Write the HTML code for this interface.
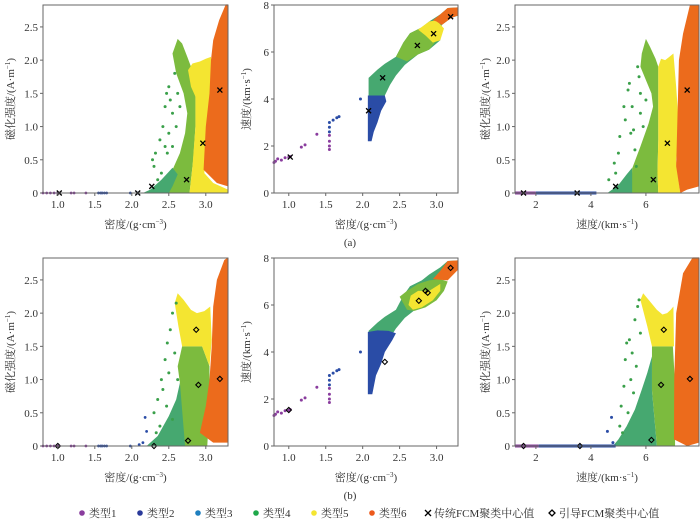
<!DOCTYPE html>
<html><head><meta charset="utf-8"><style>
body{margin:0;background:#fff;width:700px;height:519px;overflow:hidden}
svg text{font-family:"Liberation Serif","Noto Serif CJK SC","Noto Sans CJK SC",serif;fill:#333}
</style></head><body>
<svg id="chart" width="700" height="519" viewBox="0 0 700 519" xmlns="http://www.w3.org/2000/svg"></svg>
<script>
const C={t1:'#8a3d9e',t2:'#2a4ca6',t3:'#46a870',t4:'#7cbb3e',t5:'#f4e531',t6:'#ec6b1c',dot:'#3aa04a'};
const densTicks=[1.0,1.5,2.0,2.5,3.0];
const magTicks=[0,0.5,1.0,1.5,2.0,2.5];
const velTicksY=[0,2,4,6,8];
const velTicksX=[2,4,6];
// ---- top row (a) ----
const a1Regions=[
 ['t4',[[2.35,0],[2.45,0.15],[2.55,0.35],[2.65,0.6],[2.72,0.9],[2.75,1.2],[2.7,1.5],[2.6,1.8],[2.55,2.1],[2.62,2.32],[2.68,2.25],[2.75,2.05],[2.8,1.9],[2.86,1.45],[2.86,1.0],[2.83,0.5],[2.8,0.2],[2.78,0]]],
 ['t3',[[2.15,0],[2.25,0.05],[2.4,0.2],[2.55,0.38],[2.62,0.28],[2.55,0.1],[2.5,0]]],
 ['t5',[[2.78,0],[2.82,0.4],[2.86,1.0],[2.86,1.45],[2.8,1.6],[2.76,1.85],[2.82,1.95],[2.92,1.98],[3.0,2.02],[3.07,2.05],[3.08,1.6],[3.05,1.0],[3.0,0.6],[2.98,0.3],[3.1,0.15],[3.3,0.05],[3.3,0]]],
 ['t6',[[2.97,0.35],[3.0,1.0],[3.05,1.5],[3.07,2.0],[3.1,2.3],[3.18,2.6],[3.27,2.84],[3.3,2.84],[3.3,0.1],[3.15,0.15]]]];
const a1DotsX=[2.28,2.3,2.32,2.38,2.42,2.45,2.47,2.5,2.52,2.55,2.6,2.62,2.55,2.48,2.4,2.35,2.58,2.65,2.5,2.45];
const a1DotsY=[0.5,0.4,0.6,0.8,1.0,1.3,1.5,1.6,1.4,1.2,1.0,1.5,0.7,0.6,0.3,0.2,1.8,1.3,0.9,0.7];
const a1PurpleX=[0.8,0.85,0.9,0.95,1.0,1.02,1.18,1.22,1.38];
const a1BlueX=[1.55,1.58,1.6,1.63,1.66,1.98,2.08];
const a1CenterX=[1.02,2.08,2.27,2.74,2.96,3.19];
const a1CenterY=[0,0,0.1,0.2,0.75,1.55];

const a2Regions=[
 ['t2',[[2.07,2.2],[2.07,4.15],[2.3,4.15],[2.32,3.9],[2.25,3.5],[2.2,3.0],[2.15,2.6],[2.12,2.2]]],
 ['t3',[[2.08,4.15],[2.08,4.9],[2.2,5.25],[2.3,5.5],[2.45,5.8],[2.55,6.4],[2.64,6.8],[2.8,7.05],[2.9,7.3],[3.05,7.6],[3.15,7.87],[3.29,7.9],[3.29,7.55],[3.2,7.45],[3.07,7.15],[3.05,6.5],[2.9,6.1],[2.75,5.9],[2.57,5.45],[2.45,5.0],[2.37,4.6],[2.3,4.15]]],
 ['t4',[[2.45,5.8],[2.55,6.4],[2.64,6.8],[2.8,7.05],[2.9,6.75],[3.0,6.5],[2.9,6.1],[2.75,5.9],[2.6,5.6]]],
 ['t5',[[2.75,6.95],[2.9,7.3],[3.0,7.35],[3.1,7.0],[3.05,6.5],[2.95,6.4],[2.85,6.7]]],
 ['t6',[[2.95,7.35],[3.05,7.6],[3.15,7.87],[3.29,7.9],[3.29,7.55],[3.2,7.45],[3.07,7.15],[3.0,7.3]]]];
const a2PurpleX=[0.8,0.82,0.85,0.9,0.95,1.0,1.02,1.17,1.22,1.38,1.55,1.55,1.55,1.55];
const a2PurpleY=[1.3,1.35,1.45,1.4,1.5,1.52,1.55,1.95,2.05,2.5,1.85,2.0,2.2,2.45];
const a2BlueX=[1.55,1.55,1.55,1.6,1.65,1.68,1.97];
const a2BlueY=[2.6,2.8,3.0,3.1,3.2,3.25,4.0];
const a2CenterX=[1.02,2.08,2.27,2.74,2.96,3.19];
const a2CenterY=[1.53,3.5,4.9,6.28,6.78,7.5];

const a3Regions=[
 ['t3',[[4.6,0],[5.0,0.12],[5.3,0.28],[5.5,0.38],[5.55,0]]],
 ['t4',[[5.5,0],[5.5,0.37],[5.8,0.7],[6.1,1.05],[6.26,1.3],[6.2,1.5],[6.0,1.7],[5.8,1.9],[5.85,2.1],[6.0,2.32],[6.15,2.2],[6.35,2.02],[6.45,1.9],[6.45,0.8],[6.42,0.3],[6.45,0]]],
 ['t5',[[6.45,0],[6.42,0.3],[6.45,0.8],[6.45,1.9],[6.55,2.02],[6.7,2.0],[6.85,2.05],[7.0,2.1],[7.1,1.6],[7.2,1.0],[7.1,0.5],[7.15,0.3],[7.25,0]]],
 ['t6',[[7.1,0.4],[7.15,1.2],[7.2,2.0],[7.35,2.4],[7.6,2.83],[7.93,2.83],[7.93,0.1],[7.5,0.05],[7.25,0]]]];
const a3DotsX=[4.65,4.85,4.9,5.0,5.05,5.2,5.25,5.35,5.4,5.5,5.55,5.6,5.7,5.75,5.8,5.9,5.65,5.8,6.0,5.45];
const a3DotsY=[0.2,0.45,0.3,0.6,0.85,1.3,1.1,1.55,1.65,1.3,0.95,0.65,1.9,1.75,1.2,1.0,0.4,1.5,1.4,0.9];
const a3PurpleRange=[1.24,2.0];
const a3BlueRange=[2.0,4.2];
const a3CenterX=[1.55,3.5,4.9,6.27,6.78,7.5];
const a3CenterY=[0,0,0.1,0.2,0.75,1.55];

// ---- bottom row (b) ----
const b1Regions=[
 ['t3',[[2.2,0],[2.35,0.15],[2.5,0.45],[2.6,0.7],[2.65,0.95],[2.72,0.6],[2.72,0]]],
 ['t4',[[2.72,0],[2.65,0.95],[2.62,1.2],[2.68,1.5],[2.95,1.5],[3.05,1.2],[3.05,0.6],[3.02,0]]],
 ['t5',[[2.58,2.15],[2.62,2.3],[2.7,2.2],[2.8,2.05],[2.88,2.0],[2.98,2.03],[3.06,2.1],[3.08,1.6],[3.05,1.2],[2.95,1.5],[2.68,1.5],[2.63,1.8]]],
 ['t6',[[2.92,0.2],[3.0,0.6],[3.05,1.0],[3.08,1.5],[3.1,2.1],[3.15,2.5],[3.25,2.8],[3.3,2.84],[3.3,0.05],[3.1,0.05]]]];
const b1DotsX=[2.3,2.35,2.4,2.45,2.48,2.52,2.55,2.6,2.5,2.42,2.38,2.58,2.62,2.47,2.55,2.33];
const b1DotsY=[0.5,0.7,1.0,1.3,1.55,1.75,2.0,2.15,1.1,0.85,0.3,1.4,1.0,0.6,0.4,0.2];
const b1PurpleX=[0.8,0.85,0.9,0.95,1.0,1.02,1.18,1.22,1.38];
const b1BlueX=[1.55,1.58,1.6,1.63,1.66,1.98,2.1,2.15,2.2,2.18];
const b1BlueY=[0,0,0,0,0,0,0.02,0.05,0.22,0.43];
const b1CenterX=[1.0,2.3,2.76,2.9,2.87,3.19];
const b1CenterY=[0,0,0.08,0.92,1.75,1.01];

const b2Regions=[
 ['t3',[[2.08,4.15],[2.08,4.9],[2.2,5.25],[2.3,5.5],[2.45,5.8],[2.55,6.4],[2.64,6.8],[2.8,7.05],[2.9,7.3],[3.05,7.6],[3.15,7.87],[3.29,7.9],[3.29,7.55],[3.2,7.45],[3.07,7.15],[3.05,6.5],[2.9,6.1],[2.75,5.9],[2.57,5.45],[2.45,5.0],[2.37,4.6],[2.3,4.15]]],
 ['t2',[[2.07,2.2],[2.07,4.85],[2.2,4.92],[2.35,4.9],[2.45,4.8],[2.4,4.5],[2.3,4.0],[2.25,3.5],[2.18,3.0],[2.13,2.2]]],
 ['t4',[[2.5,6.35],[2.6,6.6],[2.75,6.9],[2.9,7.05],[3.05,7.1],[3.15,7.0],[3.1,6.6],[3.0,6.2],[2.85,5.9],[2.7,5.75],[2.6,5.8]]],
 ['t5',[[2.62,6.0],[2.65,6.4],[2.75,6.6],[2.9,6.6],[3.05,6.9],[3.05,6.6],[2.95,6.2],[2.8,5.9],[2.68,5.8]]],
 ['t6',[[2.95,7.1],[3.05,7.45],[3.15,7.87],[3.29,7.9],[3.29,7.5],[3.15,7.05]]]];
const b2PurpleX=[0.8,0.82,0.85,0.9,0.95,1.0,1.02,1.17,1.22,1.38,1.55,1.55,1.55,1.55];
const b2PurpleY=[1.3,1.35,1.45,1.4,1.5,1.52,1.55,1.95,2.05,2.5,1.85,2.0,2.2,2.45];
const b2BlueX=[1.55,1.55,1.55,1.6,1.65,1.68,1.97];
const b2BlueY=[2.6,2.8,3.0,3.1,3.2,3.25,4.0];
const b2CenterX=[1.0,2.3,2.76,2.85,2.88,3.19];
const b2CenterY=[1.53,3.58,6.18,6.6,6.52,7.58];

const b3Regions=[
 ['t3',[[4.8,0],[5.0,0.1],[5.3,0.3],[5.6,0.55],[5.85,0.85],[6.05,1.1],[6.22,1.35],[6.22,0.84],[6.4,0]]],
 ['t4',[[6.4,0],[6.22,0.84],[6.22,1.5],[6.98,1.5],[7.05,1.0],[7.06,0]]],
 ['t5',[[5.8,2.2],[5.9,2.3],[6.1,2.2],[6.4,2.05],[6.6,1.98],[6.77,2.0],[6.9,2.05],[7.0,2.1],[7.02,1.5],[6.22,1.5],[6.05,1.8]]],
 ['t6',[[7.02,0.1],[7.03,1.0],[7.1,2.0],[7.35,2.6],[7.7,2.84],[7.93,2.84],[7.93,0.05],[7.5,0]]]];
const b3DotsX=[5.05,5.1,5.2,5.25,5.3,5.4,5.45,5.5,5.55,5.6,5.7,5.75,5.8,5.65,5.35,5.15];
const b3DotsY=[0.3,0.6,0.9,1.3,1.55,1.6,1.0,1.4,0.8,1.9,2.1,2.2,1.7,1.2,0.5,0.2];
const b3BlueX=[4.6,4.75,4.8];
const b3BlueY=[0.22,0.43,0.05];
const b3PurpleRange=[1.24,2.1];
const b3BlueRange=[2.1,4.9];
const b3CenterX=[1.55,3.6,6.2,6.55,6.65,7.6];
const b3CenterY=[0,0,0.09,0.92,1.75,1.01];

const svg=document.getElementById('chart');
const NS='http://www.w3.org/2000/svg';
function el(tag,attrs,parent){const e=document.createElementNS(NS,tag);for(const k in attrs)e.setAttribute(k,attrs[k]);(parent||svg).appendChild(e);return e;}
function panel(name,L,R,T,B,x0,x1,y0,y1){
 const g=el('g',{});
 
 
 return {g,sx:v=>L+(v-x0)/(x1-x0)*(R-L),sy:v=>B-(v-y0)/(y1-y0)*(B-T),L,R,T,B};
}
function regions(p,list){list.forEach(([t,pts])=>{const e=el('polygon',{points:pts.map(q=>p.sx(q[0])+','+p.sy(q[1])).join(' '),fill:C[t]},p.g);
 
 });}
function dots(p,xs,ys,col,r){xs.forEach((x,i)=>{const e=el('circle',{cx:p.sx(x),cy:p.sy(ys?ys[i]:0),r:r||1.4,fill:col},p.g);
 
 });}
function seg(p,rng,col){const e=el('line',{x1:p.sx(rng[0]),x2:p.sx(rng[1]),y1:p.sy(0),y2:p.sy(0),stroke:col,'stroke-width':3},p.g);
 
 }
function centersX(p,xs,ys){xs.forEach((x,i)=>{const cx=p.sx(x),cy=p.sy(ys[i]);const e=el('path',{d:`M${cx-2.5},${cy-2.5}L${cx+2.5},${cy+2.5}M${cx+2.5},${cy-2.5}L${cx-2.5},${cy+2.5}`,stroke:'#000','stroke-width':1.3},p.g);
 
 });}
function centersD(p,xs,ys){xs.forEach((x,i)=>{const cx=p.sx(x),cy=p.sy(ys[i]);const e=el('path',{d:`M${cx},${cy-2.6}L${cx+2.6},${cy}L${cx},${cy+2.6}L${cx-2.6},${cy}Z`,stroke:'#000','stroke-width':1.1,fill:'none'},p.g);
 
 });}
function axes(p,xt,yt,xfmt,yfmt,xtitle,ytitle,ytx){
 const f=el('rect',{x:p.L,y:p.T,width:p.R-p.L,height:p.B-p.T,fill:'none',stroke:'#666','stroke-width':1},p.g);
 
 
 xt.forEach(v=>{const x=p.sx(v);el('line',{x1:x,x2:x,y1:p.B,y2:p.B+3,stroke:'#666'},p.g);
  const t=el('text',{x:x,y:p.B+15,'text-anchor':'middle','font-size':11},p.g);t.textContent=xfmt(v);
  
  });
 yt.forEach(v=>{const y=p.sy(v);el('line',{x1:p.L-3,x2:p.L,y1:y,y2:y,stroke:'#666'},p.g);
  const t=el('text',{x:p.L-5,y:y+4,'text-anchor':'end','font-size':11},p.g);t.textContent=yfmt(v);
  
  });
 const xt1=el('text',{x:(p.L+p.R)/2,y:p.B+35,'text-anchor':'middle','font-size':11},p.g);xt1.innerHTML=xtitle;
 
 
 const cy=(p.T+p.B)/2;
 const yt1=el('text',{x:ytx,y:cy,'text-anchor':'middle','font-size':11,transform:`rotate(-90 ${ytx} ${cy})`},p.g);yt1.innerHTML=ytitle;
 
 
}
const f1=v=>v===0?'0':v.toFixed(1), fi=v=>String(v);
const DENS='密度/(g·cm<tspan dy="-4" font-size="7">−3</tspan><tspan dy="4">)</tspan>';
const MAG='磁化强度/(A·m<tspan dy="-4" font-size="7">−1</tspan><tspan dy="4">)</tspan>';
const VEL='速度/(km·s<tspan dy="-4" font-size="7">−1</tspan><tspan dy="4">)</tspan>';
function row(top,bot,d,lab,useD){
 const cen=useD?centersD:centersX;
 let p=panel('panel-density-magnetization-'+lab,43,228,top,bot,0.8,3.3,0,2.83);
 regions(p,d.r1);dots(p,d.dx1,d.dy1,C.dot,1.5);dots(p,d.px1,null,C.t1,1.4);dots(p,d.bx1,d.by1,C.t2,1.4);cen(p,d.cx1,d.cy1);
 axes(p,densTicks,magTicks,f1,f1,DENS,MAG,14);
 p=panel('panel-density-velocity-'+lab,274,458,top,bot,0.8,3.29,0,8);
 regions(p,d.r2);dots(p,d.pX2,d.pY2,C.t1,1.5);dots(p,d.bX2,d.bY2,C.t2,1.5);cen(p,d.cx2,d.cy2);
 axes(p,densTicks,velTicksY,f1,fi,DENS,VEL,250);
 p=panel('panel-velocity-magnetization-'+lab,515,699,top,bot,1.24,7.93,0,2.83);
 regions(p,d.r3);dots(p,d.dx3,d.dy3,C.dot,1.5);if(d.bx3)dots(p,d.bx3,d.by3,C.t2,1.5);seg(p,d.pr3,C.t1);seg(p,d.br3,C.t2);cen(p,d.cx3,d.cy3);
 axes(p,velTicksX,magTicks,fi,f1,VEL,MAG,489);
}
row(5,193,{r1:a1Regions,dx1:a1DotsX,dy1:a1DotsY,px1:a1PurpleX,bx1:a1BlueX,by1:null,cx1:a1CenterX,cy1:a1CenterY,
 r2:a2Regions,pX2:a2PurpleX,pY2:a2PurpleY,bX2:a2BlueX,bY2:a2BlueY,cx2:a2CenterX,cy2:a2CenterY,
 r3:a3Regions,dx3:a3DotsX,dy3:a3DotsY,pr3:a3PurpleRange,br3:a3BlueRange,cx3:a3CenterX,cy3:a3CenterY},'a',false);
row(258,446,{r1:b1Regions,dx1:b1DotsX,dy1:b1DotsY,px1:b1PurpleX,bx1:b1BlueX,by1:b1BlueY,cx1:b1CenterX,cy1:b1CenterY,
 r2:b2Regions,pX2:b2PurpleX,pY2:b2PurpleY,bX2:b2BlueX,bY2:b2BlueY,cx2:b2CenterX,cy2:b2CenterY,
 r3:b3Regions,dx3:b3DotsX,dy3:b3DotsY,bx3:b3BlueX,by3:b3BlueY,pr3:b3PurpleRange,br3:b3BlueRange,cx3:b3CenterX,cy3:b3CenterY},'b',true);
</script>
<svg style="position:absolute;left:0;top:0" width="700" height="519">
 <text x="350" y="246" text-anchor="middle" font-size="11">(a)</text>
 <text x="350" y="499" text-anchor="middle" font-size="11">(b)</text>
 <g font-size="11">
  <g><circle cx="82" cy="513" r="2.8" fill="#8a3d9e"/><text x="89" y="517">类型1</text></g>
  <g><circle cx="140" cy="513" r="2.8" fill="#2a3a9a"/><text x="147" y="517">类型2</text></g>
  <g><circle cx="198" cy="513" r="2.8" fill="#1f7fbf"/><text x="205" y="517">类型3</text></g>
  <g><circle cx="256" cy="513" r="2.8" fill="#1fa84a"/><text x="263" y="517">类型4</text></g>
  <g><circle cx="314" cy="513" r="2.8" fill="#f4e531"/><text x="321" y="517">类型5</text></g>
  <g><circle cx="372" cy="513" r="2.8" fill="#ec5a1c"/><text x="379" y="517">类型6</text></g>
  <g><path d="M425,510L431,516M431,510L425,516" stroke="#000" stroke-width="1.3"/><text x="434" y="517">传统FCM聚类中心值</text></g>
  <g><path d="M552,510L555,513L552,516L549,513Z" stroke="#000" stroke-width="1.3" fill="none"/><text x="559" y="517">引导FCM聚类中心值</text></g>
 </g>
</svg>
</body></html>
